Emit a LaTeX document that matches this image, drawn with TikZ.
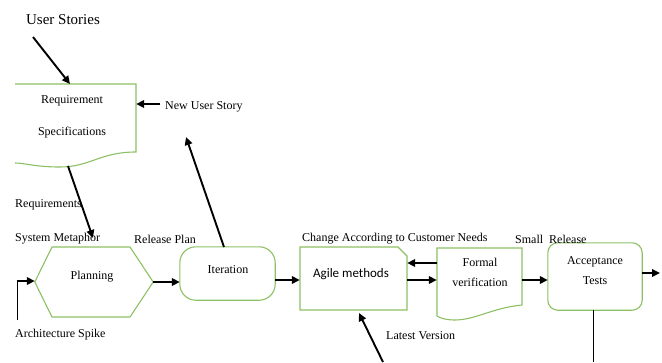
\documentclass[tikz,border=0pt]{standalone}
\usepackage{fontspec}
\setmainfont{Liberation Serif}
\newfontfamily\calib{Carlito}
\usetikzlibrary{arrows.meta}
\definecolor{boxgreen}{RGB}{140,192,100}
\tikzset{
  outline/.style={draw=boxgreen, line width=1.1pt},
  arr/.style={draw=black, line width=1.9pt, -{Triangle[length=8pt,width=7.5pt]}},
  thin/.style={draw=black, line width=1pt},
  lbl/.style={inner sep=0pt, font=\fontsize{12}{14}\selectfont},
  lblw/.style={lbl, anchor=west},
  hold/.style={draw=none, inner sep=0pt, rectangle},
}
\begin{document}
\begin{tikzpicture}[x=1pt,y=-1pt]
\useasboundingbox (0,0) rectangle (662,362);
% invisible holders for the boxes
\node[hold, minimum width=121pt, minimum height=68pt] (req) at (75.5,118) {};
\node[hold, minimum width=118pt, minimum height=70pt] (plan) at (94,282) {};
\node[hold, minimum width=95pt, minimum height=53pt] (iter) at (227.5,273.5) {};
\node[hold, minimum width=107pt, minimum height=63pt] (agile) at (353.5,278.5) {};
\node[hold, minimum width=85pt, minimum height=68pt] (formal) at (479.5,282) {};
\node[hold, minimum width=94pt, minimum height=67pt] (acc) at (595,276.5) {};
% shapes
\draw[outline] (15,84) -- (136,84) -- (136,152)
  .. controls (100,152) and (90,167) .. (60,167)
  .. controls (35,167) and (25,163) .. (15,163);
\draw[outline] (plan.west) -- (52,247) -- (130,247) -- (plan.east) -- (130,317) -- (52,317) -- cycle;
\draw[outline, rounded corners=16pt] (iter.south west) rectangle (iter.north east);
\draw[outline] (300,247) -- (398,247) -- (407,256) -- (407,310) -- (300,310) -- cycle;
\draw[outline] (437,316) -- (437,248) -- (522,248) -- (522,305)
  .. controls (492,308) and (475,320) .. (455,320)
  .. controls (446,320) and (440,318) .. (437,316);
\draw[outline, rounded corners=10pt] (acc.south west) rectangle (acc.north east);
% texts
\node[lbl, font=\fontsize{15}{17}\selectfont] (us) at (63,20) {User Stories};
\node[lbl] (reqA) at (72,101) {Requirement};
\node[lbl] (reqB) at (72,133) {Specifications};
\node[lblw] (nus) at (165,107) {New User Story};
\node[lblw] (rqs) at (15,205) {Requirements};
\node[lblw] (sm) at (15,239) {System Metaphor};
\node[lblw] (rp) at (134,239) {Release Plan};
\node[lbl] (planT) at (92,277) {Planning};
\node[lbl] (iterT) at (228,270) {Iteration};
\node[lbl, font=\calib\fontsize{13}{15}\selectfont] (agileT) at (351,274) {Agile methods};
\node[lblw] (chg) at (302,239) {Change According to Customer Needs};
\node[lblw] (sr) at (515,239) {Small\ \ Release};
\node[lbl] (formA) at (480,262) {Formal};
\node[lbl] (formB) at (480,282) {verification};
\node[lbl] (accA) at (595,262) {Acceptance};
\node[lbl] (accB) at (595,281) {Tests};
\node[lblw] (as) at (15,335) {Architecture Spike};
\node[lblw] (lv) at (386,336) {Latest Version};
% free end points
\coordinate (usTail) at (33,37);
\coordinate (reqTop) at (70,84);
\coordinate (nusTail) at (160,104);
\coordinate (reqBot) at (68,166);
\coordinate (reqTip) at (93,238);
\coordinate (iterTop) at (224,247);
\coordinate (iterTip) at (186,137);
\coordinate (spikeBot) at (17,320);
\coordinate (spikeTop) at (17,281);
\coordinate (outEnd) at (660,273);
\coordinate (accBot) at (593,310);
\coordinate (accDown) at (593,362);
\coordinate (lvTail) at (383,362);
\coordinate (lvTip) at (359,313);
% connectors
\draw[arr] (usTail) -- (reqTop);
\draw[arr] (nusTail) -- (req.east |- nusTail);
\draw[arr] (reqBot) -- (reqTip);
\draw[arr] (iterTop) -- (iterTip);
\draw[thin] (spikeBot) -- (spikeTop);
\draw[arr] (spikeTop) -- (plan.west |- spikeTop);
\draw[arr] (plan.east) -- (iter.west |- plan.east);
\draw[arr] ([yshift=-6.5pt]iter.east) -- (agile.west |- 0,280);
\draw[arr] (formal.west |- 0,263) -- (agile.east |- 0,263);
\draw[arr] (agile.east |- 0,280) -- (formal.west |- 0,280);
\draw[arr] (formal.east |- 0,280) -- (acc.west |- 0,280);
\draw[arr] (acc.east |- outEnd) -- (outEnd);
\draw[thin] (accBot) -- (accDown);
\draw[arr] (lvTail) -- (lvTip);
\end{tikzpicture}
\end{document}
